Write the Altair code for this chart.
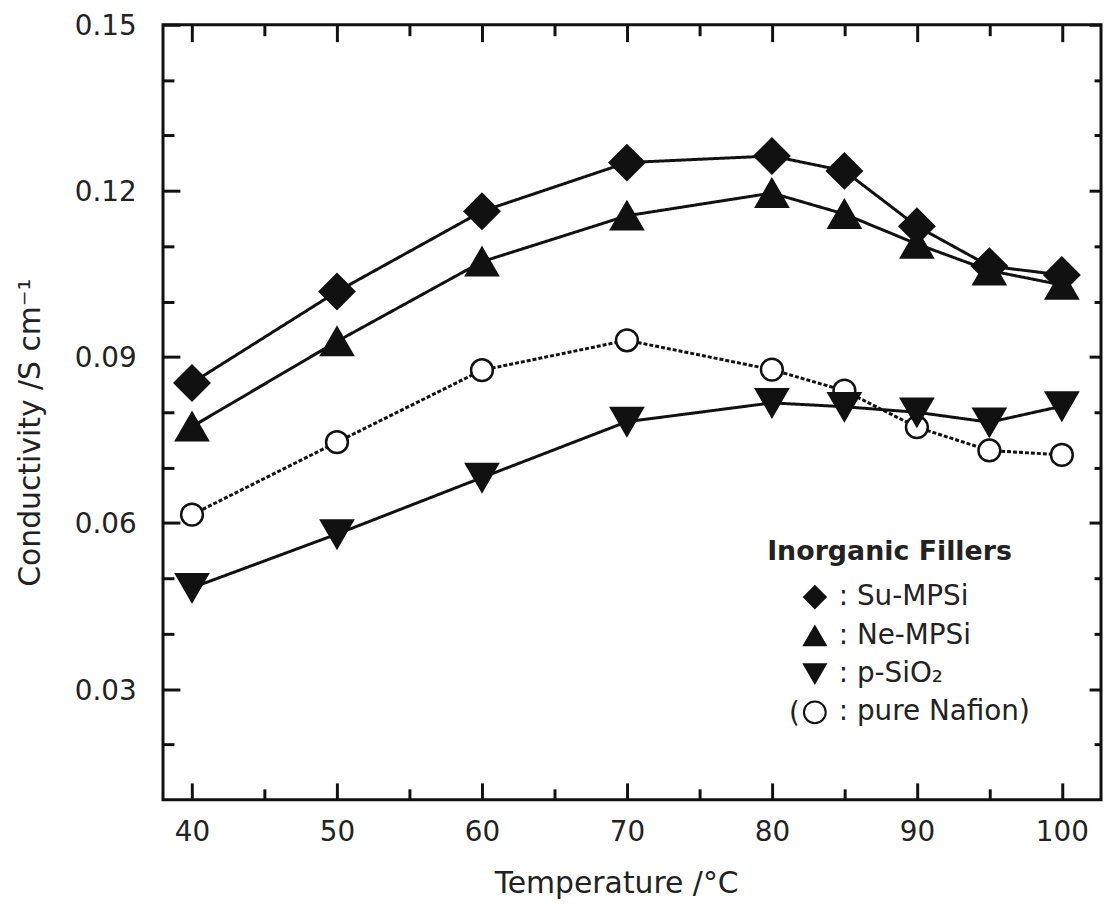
import altair as alt
import pandas as pd

# ---- data ----
temperature = [40, 50, 60, 70, 80, 85, 90, 95, 100]
su_mpsi = [0.0853, 0.1018, 0.1163, 0.1251, 0.1263, 0.1236, 0.1136, 0.1064, 0.1048]
ne_mpsi = [0.0774, 0.0928, 0.1072, 0.1155, 0.1196, 0.1158, 0.1104, 0.1056, 0.1030]
p_sio2 = [0.0483, 0.0580, 0.0682, 0.0783, 0.0817, 0.0810, 0.0800, 0.0782, 0.0811]
pure_nafion = [0.0615, 0.0746, 0.0876, 0.0930, 0.0877, 0.0839, 0.0773, 0.0731, 0.0723]

series_names = ["Su-MPSi", "Ne-MPSi", "p-SiO₂", "pure Nafion"]
series_values = [su_mpsi, ne_mpsi, p_sio2, pure_nafion]
series_shapes = ["diamond", "triangle-up", "triangle-down", "circle"]
series_fills = ["#111111", "#111111", "#111111", "#ffffff"]
series_strokes = ["#111111", "#111111", "#111111", "#111111"]
series_sizes = [1200, 1000, 1000, 480]
series_dash = [[1, 0], [1, 0], [1, 0], [4, 2]]
draw_order = [3, 0, 1, 2]

x_major = [40, 50, 60, 70, 80, 90, 100]
x_minor = [45, 55, 65, 75, 85, 95]
y_major = [0.03, 0.06, 0.09, 0.12, 0.15]
y_minor = [0.02, 0.04, 0.05, 0.07, 0.08, 0.10, 0.11, 0.13, 0.14]

rows = []
for name, vals in zip(series_names, series_values):
    for t, v in zip(temperature, vals):
        rows.append({"temp": t, "cond": v, "series": name})
df = pd.DataFrame(rows)

FONT = "DejaVu Sans"
INK = "#111111"
TXT = "#222222"

xs = alt.Scale(domain=[38, 102.7], nice=False, zero=False)
ys = alt.Scale(domain=[0.01, 0.15], nice=False, zero=False)

base = alt.Chart(df)
X = alt.X("temp:Q", scale=xs, axis=None)
Y = alt.Y("cond:Q", scale=ys, axis=None)

legend = alt.Legend(
    title="Inorganic Fillers",
    orient="none",
    legendX=608,
    legendY=518,
    padding=0,
    titleFont=FONT,
    titleFontSize=27,
    titleFontWeight="bold",
    titleColor=TXT,
    titlePadding=17,
    titleLimit=500,
    labelFont=FONT,
    labelFontSize=28,
    labelColor=TXT,
    labelOffset=10,
    labelLimit=500,
    labelExpr="datum.label == 'pure Nafion' ? ': pure Nafion)' : ': ' + datum.label",
    symbolSize=480,
    symbolOffset=34,
    symbolStrokeWidth=2,
    symbolStrokeColor=INK,
    rowPadding=10,
)

line_layers = []
point_layers = []
for i in draw_order:
    name = series_names[i]
    sub = base.transform_filter(alt.datum.series == name)
    line_layers.append(
        sub.mark_line(color=INK, strokeWidth=3, strokeDash=series_dash[i]).encode(
            x=X, y=Y, order="temp:Q")
    )
    point_layers.append(
        sub.mark_point(filled=True, opacity=1, strokeWidth=2.5,
                       size=series_sizes[i]).encode(
            x=X, y=Y,
            shape=alt.Shape("series:N", scale=alt.Scale(domain=series_names, range=series_shapes), legend=legend),
            fill=alt.Fill("series:N", scale=alt.Scale(domain=series_names, range=series_fills), legend=legend),
            stroke=alt.Stroke("series:N", scale=alt.Scale(domain=series_names, range=series_strokes), legend=legend),
        )
    )

paren = alt.Chart(pd.DataFrame({"t": ["("]})).mark_text(
    font=FONT, fontSize=28, color=TXT, align="left", baseline="middle"
).encode(text="t:N", x=alt.value(630), y=alt.value(694))

label_axes = base.mark_point(opacity=0).encode(
    x=alt.X("temp:Q", scale=xs, axis=alt.Axis(
        orient="bottom", values=x_major, tickSize=0, domain=False, grid=False,
        labelFont=FONT, labelFontSize=28, labelColor=TXT, labelPadding=19,
        title="Temperature /°C", titleFont=FONT, titleFontSize=30, titleFontWeight="normal",
        titleColor=TXT, titleBaseline="alphabetic", titleY=93, titleX=456)),
    y=alt.Y("cond:Q", scale=ys, axis=alt.Axis(
        orient="left", values=y_major, format=".2f", tickSize=0, domain=False, grid=False,
        labelFont=FONT, labelFontSize=28, labelColor=TXT, labelPadding=27, labelOffset=2,
        title="Conductivity /S cm⁻¹", titleFont=FONT, titleFontSize=30, titleFontWeight="normal",
        titleColor=TXT, titleAngle=270, titleAlign="center", titleBaseline="middle",
        titleX=-133, titleY=410)),
)


def tick_axis(orient, values, size):
    return alt.Axis(orient=orient, values=values, tickSize=size, offset=-size, labels=False,
                    domain=False, grid=False, title=None, tickWidth=3, tickColor=INK)


def tick_layer(xo, xv, xsz, yo, yv, ysz):
    return base.mark_point(opacity=0).encode(
        x=alt.X("temp:Q", scale=xs, axis=tick_axis(xo, xv, xsz)),
        y=alt.Y("cond:Q", scale=ys, axis=tick_axis(yo, yv, ysz)),
    )


layers = [
    label_axes,
    tick_layer("bottom", x_major, 17, "left", y_major, 17),
    tick_layer("bottom", x_minor, 11, "left", y_minor, 11),
    tick_layer("top", x_major, 17, "right", y_major, 12),
    tick_layer("top", x_minor, 11, "right", y_minor, 7),
] + line_layers + point_layers + [paren]

chart = alt.layer(*layers).resolve_axis(x="independent", y="independent").properties(
    width=944,
    height=780,
    autosize=alt.AutoSizeParams(type="none"),
    padding={"left": 156, "top": 14, "right": 2, "bottom": 100},
).configure(
    font=FONT,
    view=alt.ViewConfig(stroke=INK, strokeWidth=3),
)

chart.save("out.html", embed_options={"renderer": "svg", "actions": False})
